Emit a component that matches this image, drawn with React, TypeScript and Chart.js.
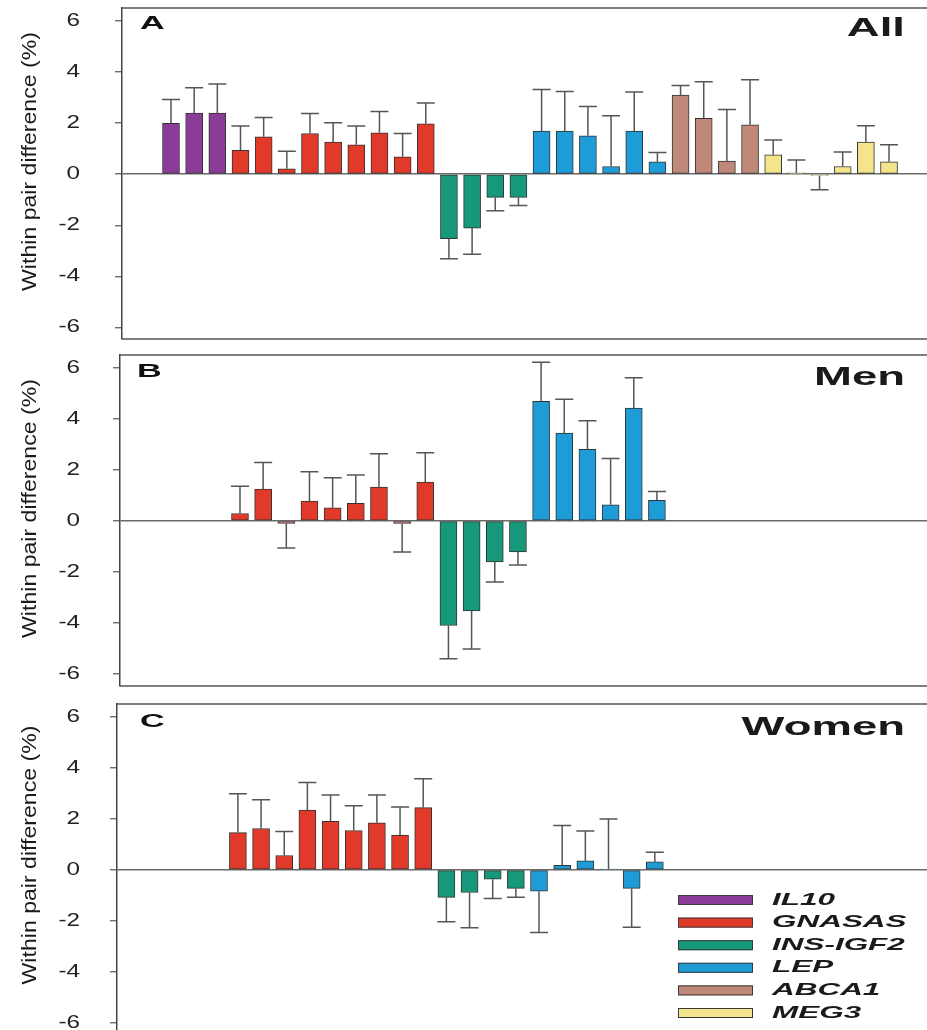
import React, { useEffect, useRef } from 'react';
import { Chart, registerables } from 'chart.js';

Chart.register(...registerables);

// ---------- data ----------
const GENES = ['IL10', 'GNASAS', 'INS-IGF2', 'LEP', 'ABCA1', 'MEG3'];
const GENE_COLORS = ['#8b3c98', '#e13a2a', '#17987a', '#1e9cd8', '#c08878', '#f4e48b'];

const POSITIONS = [1, 2, 3, 4, 5, 6, 7, 8, 9, 10, 11, 12, 13, 14, 15, 16, 17, 18, 19, 20, 21, 22, 23, 24, 25, 26, 27, 28, 29, 30, 31, 32];
const POSITION_GENE = [0, 0, 0, 1, 1, 1, 1, 1, 1, 1, 1, 1, 2, 2, 2, 2, 3, 3, 3, 3, 3, 3, 4, 4, 4, 4, 5, 5, 5, 5, 5, 5];

const ALL_MEAN = [1.99, 2.39, 2.39, 0.93, 1.46, 0.21, 1.59, 1.25, 1.15, 1.62, 0.68, 1.97, -2.52, -2.11, -0.91, -0.91, 1.68, 1.68, 1.5, 0.3, 1.68, 0.48, 3.09, 2.18, 0.51, 1.93, 0.76, 0.05, -0.05, 0.3, 1.25, 0.48];
const ALL_ERR = [0.93, 0.99, 1.14, 0.95, 0.76, 0.69, 0.78, 0.76, 0.73, 0.83, 0.91, 0.81, 0.79, 1.02, 0.52, 0.32, 1.63, 1.55, 1.15, 1.98, 1.53, 0.37, 0.38, 1.43, 2.02, 1.76, 0.58, 0.5, 0.56, 0.57, 0.64, 0.67];

const MEN_MEAN = [null, null, null, 0.29, 1.25, -0.1, 0.78, 0.51, 0.69, 1.32, -0.1, 1.52, -4.1, -3.53, -1.61, -1.22, 4.68, 3.44, 2.8, 0.63, 4.42, 0.81, null, null, null, null, null, null, null, null, null, null];
const MEN_ERR = [null, null, null, 1.07, 1.04, 0.96, 1.15, 1.18, 1.11, 1.31, 1.12, 1.15, 1.3, 1.49, 0.78, 0.51, 1.54, 1.33, 1.12, 1.81, 1.19, 0.34, null, null, null, null, null, null, null, null, null, null];

const WOMEN_MEAN = [null, null, null, 1.46, 1.62, 0.56, 2.34, 1.9, 1.54, 1.84, 1.36, 2.44, -1.08, -0.89, -0.37, -0.73, -0.84, 0.18, 0.35, 0.03, -0.73, 0.31, null, null, null, null, null, null, null, null, null, null];
const WOMEN_ERR = [null, null, null, 1.52, 1.13, 0.94, 1.08, 1.03, 0.97, 1.09, 1.1, 1.13, 0.96, 1.38, 0.75, 0.35, 1.62, 1.56, 1.17, 1.96, 1.52, 0.38, null, null, null, null, null, null, null, null, null, null];

const Y_TICKS = [-6, -4, -2, 0, 2, 4, 6];
const Y_TITLE = 'Within pair difference (%)';
const PANEL_LETTERS = ['A', 'B', 'C'];
const PANEL_NAMES = ['All', 'Men', 'Women'];

// ---------- layout ----------
const W = 927;
const FONT = '"Liberation Sans", Arial, Helvetica, sans-serif';

type PanelCfg = {
  idx: number;
  mean: (number | null)[];
  err: (number | null)[];
  top: number;
  height: number;
  padTop: number;
  padBottom: number;
  left: number;
  xMin: number;
  xMax: number;
  yMin: number;
  yMax: number;
  bottomLine: boolean;
  legend: boolean;
  letterX: number;
  letterY: number;
  nameY: number;
};

const PANELS: PanelCfg[] = [
  { idx: 0, mean: ALL_MEAN, err: ALL_ERR, top: 0, height: 345, padTop: 8, padBottom: 6, left: 122, xMin: -1.116, xMax: 33.64, yMin: -6.45, yMax: 6.5, bottomLine: true, legend: false, letterX: 140, letterY: 29, nameY: 36 },
  { idx: 1, mean: MEN_MEAN, err: MEN_ERR, top: 345, height: 350, padTop: 10, padBottom: 9, left: 120, xMin: -1.18, xMax: 33.66, yMin: -6.47, yMax: 6.5, bottomLine: true, legend: false, letterX: 137, letterY: 32, nameY: 40 },
  { idx: 2, mean: WOMEN_MEAN, err: WOMEN_ERR, top: 695, height: 335, padTop: 9, padBottom: 0, left: 117, xMin: -1.22, xMax: 33.75, yMin: -6.28, yMax: 6.5, bottomLine: false, legend: true, letterX: 140, letterY: 32, nameY: 40 },
];

function drawText(
  ctx: CanvasRenderingContext2D,
  text: string,
  x: number,
  y: number,
  font: string,
  sx: number,
  align: 'left' | 'right' | 'center',
  color: string,
  baseline: CanvasTextBaseline = 'alphabetic'
) {
  ctx.save();
  ctx.font = font;
  ctx.fillStyle = color;
  ctx.textBaseline = baseline;
  ctx.textAlign = 'left';
  const w = ctx.measureText(text).width * sx;
  const x0 = align === 'left' ? x : align === 'right' ? x - w : x - w / 2;
  ctx.translate(x0, y);
  ctx.scale(sx, 1);
  ctx.fillText(text, 0, 0);
  ctx.restore();
}

function Panel({ cfg }: { cfg: PanelCfg }) {
  const ref = useRef<HTMLCanvasElement>(null);

  useEffect(() => {
    const canvas = ref.current;
    if (!canvas) return;
    const points: { x: number; y: number }[] = [];
    const colors: string[] = [];
    const errs: number[] = [];
    POSITIONS.forEach((p, i) => {
      const m = cfg.mean[i];
      if (m === null || m === undefined) return;
      points.push({ x: p, y: m });
      colors.push(GENE_COLORS[POSITION_GENE[i]]);
      errs.push(cfg.err[i] as number);
    });

    const decor = {
      id: 'decor' + cfg.idx,
      afterDatasetsDraw(chart: any) {
        const ctx = chart.ctx as CanvasRenderingContext2D;
        const xs = chart.scales.x;
        const ys = chart.scales.y;
        ctx.save();
        ctx.strokeStyle = '#555';
        ctx.lineWidth = 1.5;
        points.forEach((pt, i) => {
          const sign = pt.y >= 0 ? 1 : -1;
          const px = xs.getPixelForValue(pt.x);
          const y0 = ys.getPixelForValue(pt.y);
          const y1 = ys.getPixelForValue(pt.y + sign * errs[i]);
          ctx.beginPath();
          ctx.moveTo(px, y0);
          ctx.lineTo(px, y1);
          ctx.moveTo(px - 9, y1);
          ctx.lineTo(px + 9, y1);
          ctx.stroke();
        });
        ctx.restore();
      },
      afterDraw(chart: any) {
        const ctx = chart.ctx as CanvasRenderingContext2D;
        const area = chart.chartArea;
        const ys = chart.scales.y;
        // frame
        ctx.save();
        ctx.strokeStyle = '#555';
        ctx.lineWidth = 1.5;
        ctx.beginPath();
        ctx.moveTo(area.left, area.top);
        ctx.lineTo(W, area.top);
        if (cfg.bottomLine) {
          ctx.moveTo(area.left, area.bottom);
          ctx.lineTo(W, area.bottom);
        }
        ctx.stroke();
        ctx.restore();

        // tick labels
        Y_TICKS.forEach((v) => {
          const py = ys.getPixelForValue(v);
          drawText(ctx, String(v), 80, py, `18px ${FONT}`, 1.35, 'right', '#222', 'middle');
        });

        // y title
        ctx.save();
        const cy = (area.top + area.bottom) / 2 - 12;
        ctx.translate(30, cy);
        ctx.rotate(-Math.PI / 2);
        drawText(ctx, Y_TITLE, 0, 0, `21px ${FONT}`, 1.1, 'center', '#1a1a1a', 'middle');
        ctx.restore();

        // panel letter & name
        drawText(ctx, PANEL_LETTERS[cfg.idx], cfg.letterX, cfg.letterY, `bold 19px ${FONT}`, 1.8, 'left', '#111');
        drawText(ctx, PANEL_NAMES[cfg.idx], 905, cfg.nameY, `bold 26px ${FONT}`, 1.75, 'right', '#1a1a1a');

        // legend
        if (cfg.legend) {
          GENES.forEach((g, i) => {
            const yc = 205 + i * 22.6;
            ctx.save();
            ctx.fillStyle = GENE_COLORS[i];
            ctx.strokeStyle = '#3a3a3a';
            ctx.lineWidth = 1;
            ctx.fillRect(678, yc - 5, 75, 10);
            ctx.strokeRect(678.5, yc - 4.5, 74, 9);
            ctx.restore();
            drawText(ctx, g, 772, yc, `italic bold 17px ${FONT}`, 1.85, 'left', '#1a1a1a', 'middle');
          });
        }
      },
    };

    const chart = new Chart(canvas, {
      type: 'bar',
      data: {
        datasets: [
          {
            data: points as any,
            backgroundColor: colors,
            borderColor: '#333',
            borderWidth: 1,
            borderSkipped: false,
            barThickness: 17,
          },
        ],
      },
      options: {
        responsive: false,
        animation: false,
        devicePixelRatio: 1,
        layout: { padding: { top: cfg.padTop, bottom: cfg.padBottom, left: 0, right: 0 } },
        plugins: { legend: { display: false }, tooltip: { enabled: false }, title: { display: false } },
        scales: {
          x: {
            type: 'linear',
            display: false,
            offset: false,
            min: cfg.xMin,
            max: cfg.xMax,
          },
          y: {
            type: 'linear',
            min: cfg.yMin,
            max: cfg.yMax,
            afterBuildTicks: (s: any) => {
              s.ticks = Y_TICKS.map((v) => ({ value: v }));
            },
            afterFit: (s: any) => {
              s.width = cfg.left;
            },
            ticks: { display: false },
            border: { display: true, color: '#444', width: 1.5 },
            grid: {
              drawOnChartArea: true,
              drawTicks: true,
              tickLength: 7,
              tickColor: '#555',
              tickWidth: 1.2,
              lineWidth: 1.5,
              color: (c: any) => (c.tick && c.tick.value === 0 ? '#6a6a6a' : 'rgba(0,0,0,0)'),
            },
          },
        },
      },
      plugins: [decor],
    });

    return () => chart.destroy();
  }, [cfg]);

  return (
    <canvas
      ref={ref}
      width={W}
      height={cfg.height}
      style={{ position: 'absolute', left: 0, top: cfg.top, width: W, height: cfg.height, display: 'block' }}
    />
  );
}

export default function App() {
  return (
    <div style={{ position: 'absolute', left: 0, top: 0, width: W, height: 1030, background: '#fff', overflow: 'hidden' }}>
      {PANELS.map((p) => (
        <Panel key={p.idx} cfg={p} />
      ))}
    </div>
  );
}
